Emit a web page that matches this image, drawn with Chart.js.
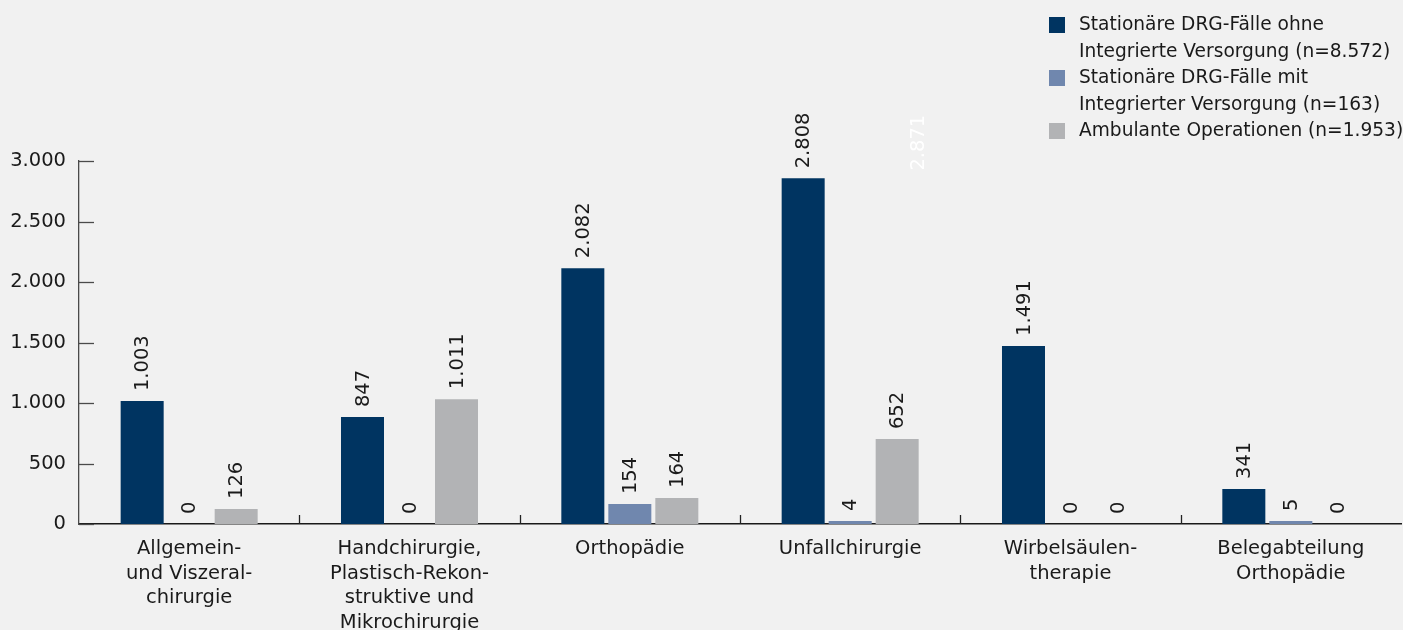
<!DOCTYPE html>
<html>
<head>
<meta charset="utf-8">
<script src="https://cdn.jsdelivr.net/npm/chart.js@4.4.1/dist/chart.umd.min.js"></script>
<style>
  html, body { margin: 0; padding: 0; background: #f1f1f1; }
  #wrap { position: relative; width: 1403px; height: 630px; background: #f1f1f1; }
  #legend { position: absolute; left: 1049px; top: 11px; font-family: "DejaVu Sans", sans-serif; font-size: 18.6px; line-height: 26.5px; color: #1a1a1a; white-space: nowrap; }
  .item { display: flex; align-items: flex-start; }
  .sw { width: 16px; height: 16px; margin-top: 6px; margin-right: 14px; flex: none; }
</style>
</head>
<body>
<div id="wrap">
  <canvas id="c"></canvas>
  <div id="legend"></div>
</div>
<script>
// ---- data ----
const categories = [
  ["Allgemein-", "und Viszeral-", "chirurgie"],
  ["Handchirurgie,", "Plastisch-Rekon-", "struktive und", "Mikrochirurgie"],
  "Orthopädie",
  "Unfallchirurgie",
  ["Wirbelsäulen-", "therapie"],
  ["Belegabteilung", "Orthopädie"]
];
const seriesNames = [
  ["Stationäre DRG-Fälle ohne", "Integrierte Versorgung (n=8.572)"],
  ["Stationäre DRG-Fälle mit", "Integrierter Versorgung (n=163)"],
  ["Ambulante Operationen (n=1.953)"]
];
// bar heights as drawn
const ohneIV   = [1016, 884, 2114, 2857, 1472, 289];
const mitIV    = [0, 0, 165, 25, 0, 25];
const ambulant = [124, 1032, 215, 702, 0, 0];
// printed value labels
const ohneIVLabels   = [1003, 847, 2082, 2808, 1491, 341];
const mitIVLabels    = [0, 0, 154, 4, 0, 5];
const ambulantLabels = [126, 1011, 164, 652, 0, 0];
// stray label printed in the original above Unfallchirurgie
const strayLabel = { dataset: 2, index: 3, value: 2871 };
const yTicks = [0, 500, 1000, 1500, 2000, 2500, 3000];

const colors = ["#003461", "#7087ae", "#b2b3b5"];
const FONT = '"DejaVu Sans", sans-serif';
const TEXT = "#1a1a1a";

function fmt(n) {
  return String(n).replace(/\B(?=(\d{3})+(?!\d))/g, ".");
}

const labelSets = [ohneIVLabels, mitIVLabels, ambulantLabels];

const decoPlugin = {
  id: "deco",
  afterDatasetsDraw(chart) {
    const ctx = chart.ctx;
    const ys = chart.scales.y, xs = chart.scales.x;
    const area = chart.chartArea;
    ctx.save();
    // inward y tick marks
    ctx.strokeStyle = "#4a4a4a";
    ctx.lineWidth = 1.3;
    yTicks.forEach(v => {
      const y = Math.round(ys.getPixelForValue(v)) + 0.5;
      ctx.beginPath();
      ctx.moveTo(area.left, y);
      ctx.lineTo(area.left + 15, y);
      ctx.stroke();
    });
    // inward x tick marks between categories
    ctx.strokeStyle = "#222";
    ctx.lineWidth = 1.3;
    for (let i = 1; i < categories.length; i++) {
      const x = Math.round((xs.getPixelForValue(i - 1) + xs.getPixelForValue(i)) / 2) + 0.5;
      ctx.beginPath();
      ctx.moveTo(x, area.bottom);
      ctx.lineTo(x, area.bottom - 9);
      ctx.stroke();
    }
    // value labels, rotated
    ctx.font = "19.5px " + FONT;
    ctx.textAlign = "left";
    ctx.textBaseline = "middle";
    labelSets.forEach((labels, di) => {
      const meta = chart.getDatasetMeta(di);
      meta.data.forEach((el, i) => {
        ctx.save();
        ctx.fillStyle = TEXT;
        ctx.translate(el.x + 1, el.y - 10);
        ctx.rotate(-Math.PI / 2);
        ctx.fillText(fmt(labels[i]), 0, 0);
        ctx.restore();
      });
    });
    // stray white label
    const el = chart.getDatasetMeta(strayLabel.dataset).data[strayLabel.index];
    ctx.save();
    ctx.fillStyle = "#ffffff";
    ctx.translate(el.x + 22, ys.getPixelForValue(strayLabel.value) - 6);
    ctx.rotate(-Math.PI / 2);
    ctx.fillText(fmt(strayLabel.value), 0, 0);
    ctx.restore();
    ctx.restore();
  }
};

const canvas = document.getElementById("c");
canvas.width = 1403; canvas.height = 630;
new Chart(canvas, {
  type: "bar",
  data: {
    labels: categories,
    datasets: [
      { label: seriesNames[0].join(" "), data: ohneIV, backgroundColor: colors[0] },
      { label: seriesNames[1].join(" "), data: mitIV, backgroundColor: colors[1] },
      { label: seriesNames[2].join(" "), data: ambulant, backgroundColor: colors[2] }
    ]
  },
  options: {
    responsive: false,
    animation: false,
    devicePixelRatio: 1,
    layout: { padding: { top: 161, right: 2, left: 0, bottom: 0 } },
    datasets: { bar: { categoryPercentage: 0.64, barPercentage: 0.915 } },
    plugins: { legend: { display: false }, tooltip: { enabled: false } },
    scales: {
      x: {
        grid: { display: false, drawTicks: false },
        border: { display: true, color: "#1a1a1a", width: 1.5 },
        ticks: { color: TEXT, font: { family: FONT, size: 19.5, lineHeight: 1.256 }, padding: 13, maxRotation: 0, autoSkip: false },
        afterFit(s) { s.height = 106; }
      },
      y: {
        min: 0, max: 3000,
        grid: { display: false, drawTicks: false },
        border: { display: true, color: "#4a4a4a", width: 1.3 },
        afterBuildTicks(s) { s.ticks = yTicks.map(v => ({ value: v })); },
        ticks: { color: TEXT, font: { family: FONT, size: 19.5 }, padding: 13, callback: v => fmt(v) },
        afterFit(s) { s.width = 79; }
      }
    }
  },
  plugins: [decoPlugin]
});

// legend
const lg = document.getElementById("legend");
seriesNames.forEach((lines, i) => {
  const it = document.createElement("div");
  it.className = "item";
  const sw = document.createElement("div");
  sw.className = "sw";
  sw.style.background = colors[i];
  const tx = document.createElement("div");
  tx.innerHTML = lines.join("<br>");
  it.appendChild(sw); it.appendChild(tx);
  lg.appendChild(it);
});
</script>
</body>
</html>
